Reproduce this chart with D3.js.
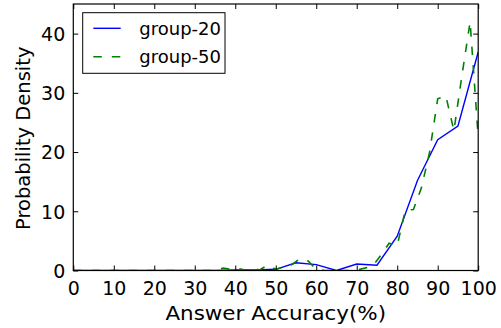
<!DOCTYPE html>
<html><head><meta charset="utf-8">
<script src="https://cdn.jsdelivr.net/npm/d3@7"></script>
<style>
html,body{margin:0;padding:0;background:#fff;}
svg{display:block;}
text{font-family:"DejaVu Sans",sans-serif;fill:#000;}
</style></head>
<body><svg id="c" width="501" height="328"></svg>
<script>
// group-20 (blue, solid)
const g20X = [0,5,10,15,20,25,30,35,40,45,50,55,60,65,70,75,80,85,90,95,100];
const g20Y = [0,0,0,0,0,0,0,0,0.1,0.1,0.2,1.3,1.0,0,1.1,0.9,5.8,15.2,22.1,24.4,36.9];
// group-50 (green, dashed)
const g50X = [0,10,20,30,35,37,39,41,43,44,46,48,50,52,54,56,58,60,62,64,66,68,70,72,74,76,78,80,82,84,86,88,90,92,94,96,98,100];
const g50Y = [0,0,0,0,0,0.4,0.2,0.3,0,0.4,0.1,0.9,0.2,0.6,1.0,2.0,1.6,0.2,0,0,0,0,0.1,0.4,0.8,2.6,4.6,4.2,10.2,10.3,14.0,20.0,29.0,29.5,23.6,33.0,42.0,22.5];
const xTicks = [0,10,20,30,40,50,60,70,80,90,100];
const yTicks = [0,10,20,30,40];
const seriesNames = ["group-20","group-50"];

const svg = d3.select("#c");
const L = 73.3, R = 478.2, T = 4, B = 270.5;
const x = d3.scaleLinear().domain([0,100]).range([L,R]);
const y = d3.scaleLinear().domain([0,45]).range([B,T]);

const line = d3.line().x(d=>x(d[0])).y(d=>y(d[1]));
const d20 = g20X.map((v,i)=>[v,g20Y[i]]);
const d50 = g50X.map((v,i)=>[v,g50Y[i]]);

svg.append("clipPath").attr("id","pc").append("rect")
  .attr("x",L).attr("y",T).attr("width",R-L).attr("height",B-T);

const plot = svg.append("g").attr("clip-path","url(#pc)");
plot.append("path").datum(d20).attr("d",line).attr("fill","none")
  .attr("stroke","#0000ff").attr("stroke-width",1.4);
plot.append("path").datum(d50).attr("d",line).attr("fill","none")
  .attr("stroke","#008000").attr("stroke-width",1.6).attr("stroke-dasharray","8.5,10");

// axes: ticks inward on all sides
const fs = 19;
const xb = svg.append("g").attr("transform",`translate(0,${B})`)
  .call(d3.axisBottom(x).tickValues(xTicks).tickSizeInner(-5).tickSizeOuter(0).tickPadding(10));
const xt = svg.append("g").attr("transform",`translate(0,${T})`)
  .call(d3.axisTop(x).tickValues(xTicks).tickSizeInner(-5).tickSizeOuter(0).tickFormat(""));
const yl = svg.append("g").attr("transform",`translate(${L},0)`)
  .call(d3.axisLeft(y).tickValues(yTicks).tickSizeInner(-5).tickSizeOuter(0).tickPadding(8));
const yr = svg.append("g").attr("transform",`translate(${R},0)`)
  .call(d3.axisRight(y).tickValues(yTicks).tickSizeInner(-5).tickSizeOuter(0).tickFormat(""));
[xb,xt,yl,yr].forEach(g=>{
  g.selectAll(".domain").remove();
  g.selectAll(".tick line").attr("stroke","#000").attr("stroke-width",1);
  g.selectAll(".tick text").attr("font-family","DejaVu Sans").attr("font-size",fs).attr("fill","#000");
});
xb.selectAll(".tick text").attr("dy",null).attr("y",24);
yl.selectAll(".tick text").attr("dy","0.36em");

svg.append("rect").attr("x",L).attr("y",T).attr("width",R-L).attr("height",B-T)
  .attr("fill","none").attr("stroke","#000").attr("stroke-width",1.2);

svg.append("text").attr("transform",`translate(${(L+R)/2},320) scale(1.1,1)`).attr("text-anchor","middle")
  .attr("font-size",19.5).text("Answer Accuracy(%)");
svg.append("text").attr("transform",`translate(30,${(T+B)/2+1}) rotate(-90)`).attr("text-anchor","middle")
  .attr("font-size",19.5).text("Probability Density");

// legend
const lg = svg.append("g");
lg.append("rect").attr("x",82.7).attr("y",12.7).attr("width",142.3).attr("height",60.6)
  .attr("fill","#fff").attr("stroke","#000").attr("stroke-width",1);
const styles = [{c:"#0000ff",w:1.4,da:null},{c:"#008000",w:1.6,da:"8.5,10"}];
seriesNames.forEach((n,i)=>{
  const yy = 28.3 + i*28.4;
  lg.append("line").attr("x1",93.3).attr("x2",120.7).attr("y1",yy).attr("y2",yy)
    .attr("stroke",styles[i].c).attr("stroke-width",styles[i].w).attr("stroke-dasharray",styles[i].da);
  lg.append("text").attr("x",139.3).attr("y",yy).attr("dy","0.36em").attr("font-size",18).text(n);
});
</script></body></html>
